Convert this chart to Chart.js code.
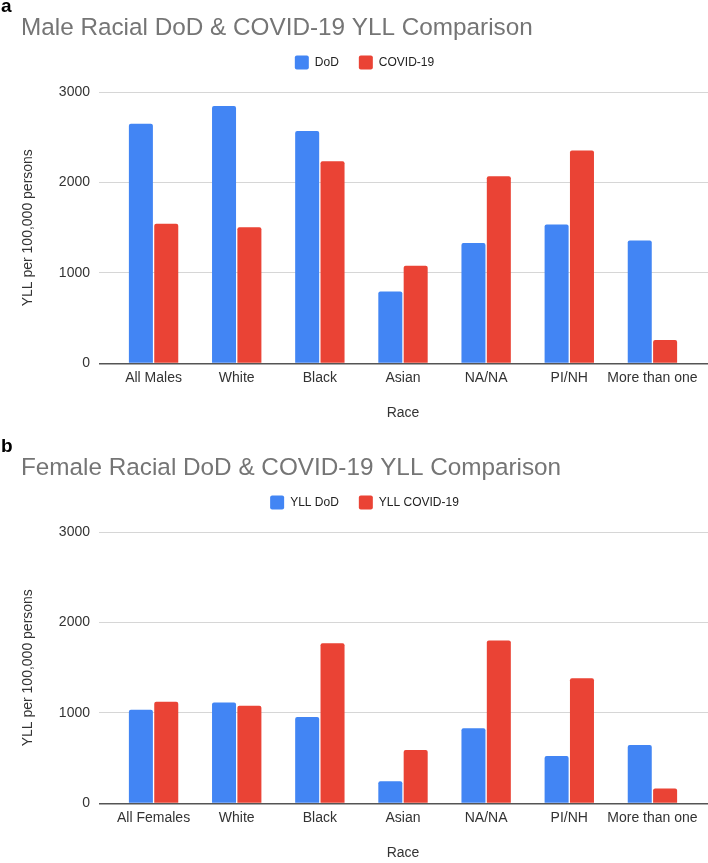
<!DOCTYPE html>
<html>
<head>
<meta charset="utf-8">
<script src="https://cdn.jsdelivr.net/npm/chart.js@4.4.1/dist/chart.umd.min.js"></script>
<style>
  body { margin: 0; background: #fff; font-family: "Liberation Sans", Arial, sans-serif; }
  #wrap { position: relative; width: 708px; height: 863px; overflow: hidden; }
  .panel { position: absolute; left: 0; width: 708px; height: 426px; }
  .tag { position: absolute; left: 1px; font-weight: bold; font-size: 19px; line-height: 19px; color: #000; }
</style>
</head>
<body>
<div id="wrap">
  <div class="panel" style="top:0"><canvas id="maleChart" width="708" height="426"></canvas></div>
  <div class="panel" style="top:440px"><canvas id="femaleChart" width="708" height="426"></canvas></div>
  <div class="tag" style="top:-4px">a</div>
  <div class="tag" style="top:436px">b</div>
</div>
<script>
const maleRaces = ['All Males', 'White', 'Black', 'Asian', 'NA/NA', 'PI/NH', 'More than one'];
const maleDod = [2650, 2845, 2570, 795, 1330, 1535, 1360];
const maleCovid = [1545, 1505, 2235, 1080, 2070, 2355, 260];

const femaleRaces = ['All Females', 'White', 'Black', 'Asian', 'NA/NA', 'PI/NH', 'More than one'];
const femaleDod = [1035, 1115, 955, 245, 830, 525, 645];
const femaleCovid = [1125, 1080, 1770, 590, 1800, 1385, 165];

const yTicks = [0, 1000, 2000, 3000];

Chart.defaults.font.family = '"Liberation Sans", Arial, sans-serif';
Chart.defaults.color = '#333';

// extra room between legend and plot
const legendGap = {
    id: 'legendGap',
    beforeInit(chart) {
        const origFit = chart.legend.fit;
        chart.legend.fit = function () {
            origFit.bind(chart.legend)();
            this.height += 12.5;
        };
    }
};

const gridColor = c => c.tick && c.tick.value === 0 ? '#555' : '#d6d6d6';
const gridWidth = c => c.tick && c.tick.value === 0 ? 1.5 : 1;

function makeChart(id, title, labels, dodLabel, dod, covidLabel, covid) {
    const ctx = document.getElementById(id).getContext('2d');
    return new Chart(ctx, {
        type: 'bar',
        data: {
            labels: labels,
            datasets: [{
                label: dodLabel,
                data: dod,
                backgroundColor: '#4285F4',
                borderRadius: 2,
                categoryPercentage: 0.61,
                barPercentage: 0.947
            }, {
                label: covidLabel,
                data: covid,
                backgroundColor: '#EA4335',
                borderRadius: 2,
                categoryPercentage: 0.61,
                barPercentage: 0.947
            }]
        },
        options: {
            responsive: false,
            animation: false,
            layout: { padding: { left: 21, right: 0, top: 0, bottom: 0 } },
            plugins: {
                title: {
                    display: true,
                    text: title,
                    align: 'start',
                    color: '#757575',
                    font: { size: 24.3, weight: 'normal', lineHeight: 0.6 },
                    padding: { top: 21, bottom: 0 }
                },
                legend: {
                    labels: {
                        boxWidth: 14,
                        boxHeight: 14,
                        padding: 20,
                        color: '#222',
                        font: { size: 12 },
                        useBorderRadius: true,
                        borderRadius: 2
                    }
                },
                tooltip: { enabled: false }
            },
            scales: {
                x: {
                    grid: { display: false, drawTicks: false },
                    border: { display: false },
                    ticks: { padding: 6, maxRotation: 0, autoSkip: false, color: '#333', font: { size: 14 } },
                    title: { display: true, text: 'Race', color: '#333', font: { size: 14 }, padding: { top: 13, bottom: 4 } }
                },
                y: {
                    min: 0,
                    max: 3000,
                    afterBuildTicks: s => { s.ticks = yTicks.map(v => ({ value: v })); },
                    afterFit: s => { s.width = 91; },
                    ticks: { padding: 9, color: '#333', font: { size: 14 }, callback: v => String(v) },
                    grid: { color: gridColor, lineWidth: gridWidth, tickLength: 13 },
                    border: { display: false },
                    title: {
                        display: true,
                        text: 'YLL per 100,000 persons',
                        color: '#333',
                        font: { size: 14, lineHeight: 1 },
                        padding: { top: 0, bottom: 0 }
                    }
                },
                y2: {
                    position: 'right',
                    min: 0,
                    max: 3000,
                    afterBuildTicks: s => { s.ticks = yTicks.map(v => ({ value: v })); },
                    afterFit: s => { s.width = 14; },
                    ticks: { display: false },
                    grid: { drawOnChartArea: false, color: gridColor, lineWidth: gridWidth, tickLength: 14 },
                    border: { display: false }
                }
            }
        },
        plugins: [legendGap]
    });
}

makeChart('maleChart', 'Male Racial DoD & COVID-19 YLL Comparison', maleRaces,
    'DoD', maleDod, 'COVID-19', maleCovid);
makeChart('femaleChart', 'Female Racial DoD & COVID-19 YLL Comparison', femaleRaces,
    'YLL DoD', femaleDod, 'YLL COVID-19', femaleCovid);
</script>
</body>
</html>
